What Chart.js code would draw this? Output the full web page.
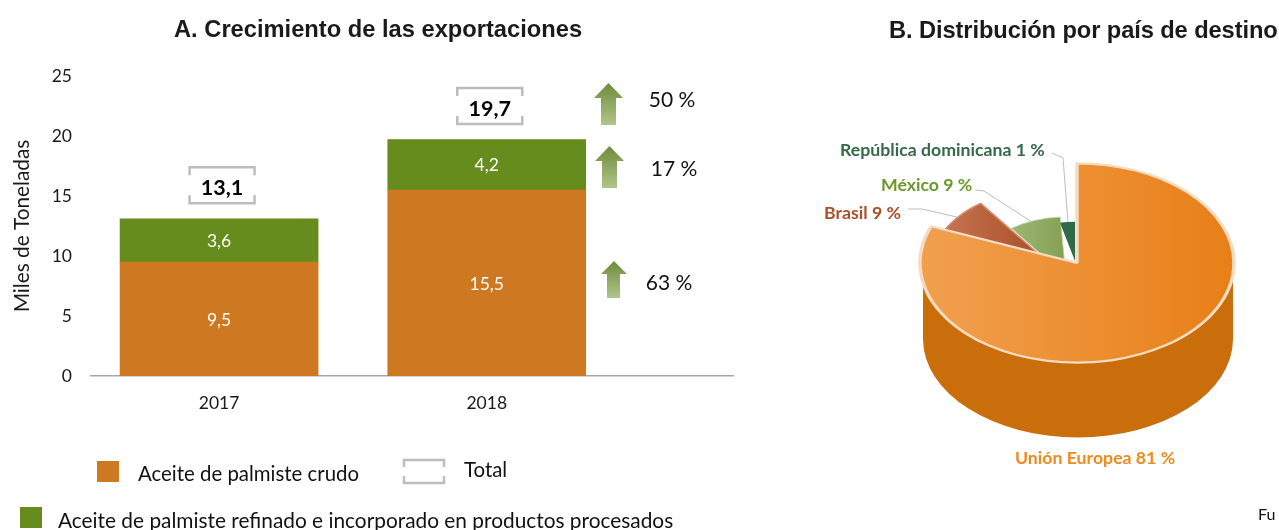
<!DOCTYPE html>
<html><head><meta charset="utf-8">
<script src="https://cdn.jsdelivr.net/npm/chart.js@4"></script>
<style>
html,body{margin:0;padding:0;background:#fff;width:1279px;height:530px;overflow:hidden}
canvas{position:absolute}
.t{position:absolute;white-space:nowrap;line-height:1;color:#111}
.h{font:bold 23.7px "Liberation Sans",Arial,sans-serif;color:#1a1a1a}
.l{font:20.4px Lato,sans-serif}
.s{position:absolute;width:22px;height:21px}
</style></head><body>
<canvas id="bars" width="1279" height="530" style="left:0;top:0"></canvas>
<canvas id="pie" width="481" height="400" style="left:798px;top:120px"></canvas>
<div class="t h" style="left:174px;top:16px">A. Crecimiento de las exportaciones</div>
<div class="t h" style="left:889px;top:17px;letter-spacing:-0.1px">B. Distribución por país de destino</div>
<div class="t" style="left:1258px;top:504px;font:16px Lato,sans-serif">Fu</div>
<div id="legend"></div>
<script>
// ---- data ----
const years = [2017, 2018];
const crudo = [9.5, 15.5];
const refinado = [3.6, 4.2];
const totals = [13.1, 19.7];
const seriesNames = ['Aceite de palmiste crudo', 'Aceite de palmiste refinado e incorporado en productos procesados'];
const totalName = 'Total';
const growthLabels = ['50 %', '17 %', '63 %'];
const yTicks = [0, 5, 10, 15, 20, 25];
const paises = ['Brasil', 'México', 'República dominicana', 'Unión Europea'];
const participacion = [9, 9, 1, 81];
// ---- styles ----
const ORANGE = '#CE7821', GREEN = '#668C1E', GREY = '#BDBDBD';
const CAL = 'Lato, sans-serif';
const fmt = v => v.toFixed(1).replace('.', ',');

function bracket(ctx, x0, y0, x1, y1, arm) {
  ctx.beginPath();
  ctx.moveTo(x0, y0 + arm); ctx.lineTo(x0, y0); ctx.lineTo(x1, y0); ctx.lineTo(x1, y0 + arm);
  ctx.moveTo(x0, y1 - arm); ctx.lineTo(x0, y1); ctx.lineTo(x1, y1); ctx.lineTo(x1, y1 - arm);
  ctx.strokeStyle = GREY; ctx.lineWidth = 2.5; ctx.stroke();
}
function upArrow(ctx, x0, x1, s0, s1, top, neck, bottom) {
  const g = ctx.createLinearGradient(0, top, 0, bottom);
  g.addColorStop(0, '#6E8B3A'); g.addColorStop(1, '#AFC58B');
  ctx.beginPath();
  ctx.moveTo((x0 + x1) / 2, top); ctx.lineTo(x1, neck); ctx.lineTo(s1, neck);
  ctx.lineTo(s1, bottom); ctx.lineTo(s0, bottom); ctx.lineTo(s0, neck); ctx.lineTo(x0, neck);
  ctx.closePath(); ctx.fillStyle = g; ctx.fill();
}

const barExtras = {
  id: 'barExtras',
  afterDatasetsDraw(chart) {
    const { ctx, scales: { x, y } } = chart;
    ctx.save();
    ctx.textAlign = 'center'; ctx.textBaseline = 'middle';
    // segment values
    ctx.font = '17.5px ' + CAL; ctx.fillStyle = '#fff';
    chart.data.datasets.forEach((ds, d) => {
      chart.getDatasetMeta(d).data.forEach((bar, i) => {
        const base = d === 0 ? 0 : crudo[i];
        ctx.fillText(fmt(ds.data[i].y), bar.x, y.getPixelForValue(base + ds.data[i].y / 2) + 1);
      });
    });
    // totals with brackets
    totals.forEach((t, i) => {
      const cx = x.getPixelForValue(years[i]) + 3, cy = y.getPixelForValue(t) - 33.5;
      bracket(ctx, cx - 32.5, cy - 18, cx + 32.5, cy + 18, 8);
      ctx.font = 'bold 21.5px ' + CAL; ctx.fillStyle = '#000';
      ctx.fillText(fmt(t), cx, cy + 3);
    });
    // growth arrows
    upArrow(ctx, 594, 623, 601, 616, 83, 98, 125);
    upArrow(ctx, 595, 624, 602, 617, 146, 161, 188);
    upArrow(ctx, 601, 627, 607, 620, 261, 274, 298);
    ctx.font = '21px ' + CAL; ctx.fillStyle = '#111';
    ctx.fillText(growthLabels[0], 672, 100);
    ctx.fillText(growthLabels[1], 674, 169);
    ctx.fillText(growthLabels[2], 669, 283);
    ctx.restore();
  }
};

new Chart(document.getElementById('bars'), {
  type: 'bar',
  data: {
    datasets: [
      { label: seriesNames[0], data: years.map((v, i) => ({ x: v, y: crudo[i] })), backgroundColor: ORANGE, barThickness: 198 },
      { label: seriesNames[1], data: years.map((v, i) => ({ x: v, y: refinado[i] })), backgroundColor: GREEN, barThickness: 198 }
    ]
  },
  options: {
    responsive: false, animation: false,
    layout: { padding: { top: 76, right: 546, left: 0, bottom: 0 } },
    plugins: { legend: { display: false }, tooltip: { enabled: false } },
    scales: {
      x: {
        type: 'linear', stacked: true, offset: false, min: 2016.5215, max: 2018.92,
        afterBuildTicks(s) { s.ticks = years.map(v => ({ value: v })); },
        afterFit(s) { s.height = 154; },
        grid: { display: false, drawTicks: false },
        border: { color: '#A6A6A6', width: 1.5 },
        ticks: { padding: 17, maxRotation: 0, autoSkip: false, color: '#1a1a1a', font: { family: CAL, size: 17.5 }, callback: v => String(v) }
      },
      y: {
        stacked: true, min: 0, max: 25,
        afterBuildTicks(s) { s.ticks = yTicks.map(v => ({ value: v })); },
        afterFit(s) { s.width = 91; },
        grid: { display: false, drawTicks: false },
        border: { display: false },
        ticks: { padding: 19, color: '#1a1a1a', font: { family: CAL, size: 17.5 } },
        title: { display: true, text: 'Miles de Toneladas', color: '#1a1a1a', font: { family: CAL, size: 20.8 }, padding: { top: 10, bottom: 0 } }
      }
    }
  },
  plugins: [barExtras]
});

// ---- 3D pie ----
const PCX = 1077 - 798, PCY = 263 - 120, TILT = 0.635, R = 157, DEPTH = 76;
// visual layout of the small recessed slices (radius and shift of each apex)
const sliceGeom = [
  { r: 118, dx: -27, dy: 1 },
  { r: 93, dx: -11, dy: 13 },
  { r: 62, dx: -2, dy: -2, minSweep: 14 },   // very thin slice drawn with a minimum visible sweep, as in the source figure
  { r: R, dx: 0, dy: 0 }
];
const hGrad = (c, x0, x1, a, b) => {
  const g = c.chart.ctx.createLinearGradient(x0, 0, x1, 0);
  g.addColorStop(0, a); g.addColorStop(1, b); return g;
};
const sliceFill = [
  c => hGrad(c, PCX - 135, PCX - 35, '#C67452', '#A94F26'),
  c => hGrad(c, PCX - 66, PCX - 15, '#9DB775', '#84A255'),
  () => '#2F6B4A',
  c => hGrad(c, PCX - R, PCX + R, '#F1A04F', '#E87F17')
];
const sliceBorder = ['#D28C70', '#C9D8AE', '#8FB09C', '#F4DCC3'];
const labelStyle = [
  { color: '#AB4F2B', x: 824, y: 213, line: [[908, 209], [922, 209], [957, 217]] },
  { color: '#6B9A2A', x: 881, y: 185, line: [[975, 190], [984, 191], [1032, 222]] },
  { color: '#35694A', x: 840, y: 150, line: [[1052, 153], [1063, 158], [1068, 222]] },
  { color: '#EE8A1E', x: 1015, y: 458, line: null }
];
const pie3d = {
  id: 'pie3d',
  afterDatasetsUpdate(chart) {
    chart.getDatasetMeta(0).data.forEach((el, i) => {
      const g = sliceGeom[i];
      el.x = PCX + g.dx; el.y = PCY + g.dy / TILT;
      el.outerRadius = g.r; el.innerRadius = 0;
      if (g.minSweep) {
        el.startAngle = el.endAngle - g.minSweep * Math.PI / 180;
        el.circumference = el.endAngle - el.startAngle;
      }
    });
  },
  beforeDatasetsDraw(chart) {
    const ctx = chart.ctx;
    ctx.save();
    // tilt everything about the pie's centre line
    ctx.translate(0, PCY); ctx.scale(1, TILT); ctx.translate(0, -PCY);
    // extruded wall of the largest slice
    ctx.fillStyle = '#C96E0A';
    ctx.beginPath();
    ctx.arc(PCX + 1, PCY + DEPTH / TILT, 155, 0, Math.PI);
    ctx.lineTo(PCX - 154, PCY + 10); ctx.lineTo(PCX + 156, PCY + 10);
    ctx.closePath(); ctx.fill();
  },
  afterDatasetsDraw(chart) {
    const ctx = chart.ctx;
    ctx.restore();
    ctx.save();
    ctx.textBaseline = 'middle'; ctx.textAlign = 'left';
    ctx.font = 'bold 17.7px ' + CAL;
    paises.forEach((p, i) => {
      const s = labelStyle[i];
      if (s.line) {
        ctx.beginPath();
        s.line.forEach((pt, k) => ctx[k ? 'lineTo' : 'moveTo'](pt[0] - 798, pt[1] - 120));
        ctx.strokeStyle = GREY; ctx.lineWidth = 1; ctx.stroke();
      }
      ctx.fillStyle = s.color;
      ctx.fillText(p + ' ' + participacion[i] + ' %', s.x - 798, s.y - 120);
    });
    ctx.restore();
  }
};
new Chart(document.getElementById('pie'), {
  type: 'pie',
  data: {
    labels: paises,
    datasets: [{
      data: participacion,
      backgroundColor: c => sliceFill[c.dataIndex](c),
      borderColor: sliceBorder,
      borderWidth: [2, 1, 0, 3.5],
      borderAlign: 'center'
    }]
  },
  options: {
    responsive: false, animation: false,
    rotation: -68.4, // the largest slice starts at twelve o'clock
    plugins: { legend: { display: false }, tooltip: { enabled: false } }
  },
  plugins: [pie3d]
});

// ---- legend ----
const legend = document.getElementById('legend');
legend.innerHTML =
  `<div class="s" style="left:97px;top:461px;background:${ORANGE}"></div>
   <div class="t l" style="left:138px;top:461px">${seriesNames[0]}</div>
   <div class="s" style="left:20px;top:507px;background:${GREEN}"></div>
   <div class="t l" style="left:58px;top:507px;font-size:20.85px">${seriesNames[1]}</div>
   <div class="t l" style="left:464px;top:457px">${totalName}</div>
   <svg style="position:absolute;left:400px;top:456px" width="48" height="32" fill="none" stroke="${GREY}" stroke-width="2.5"><path d="M4 11V4H44V11M4 20V27H44V20"/></svg>`;
</script>
</body></html>
